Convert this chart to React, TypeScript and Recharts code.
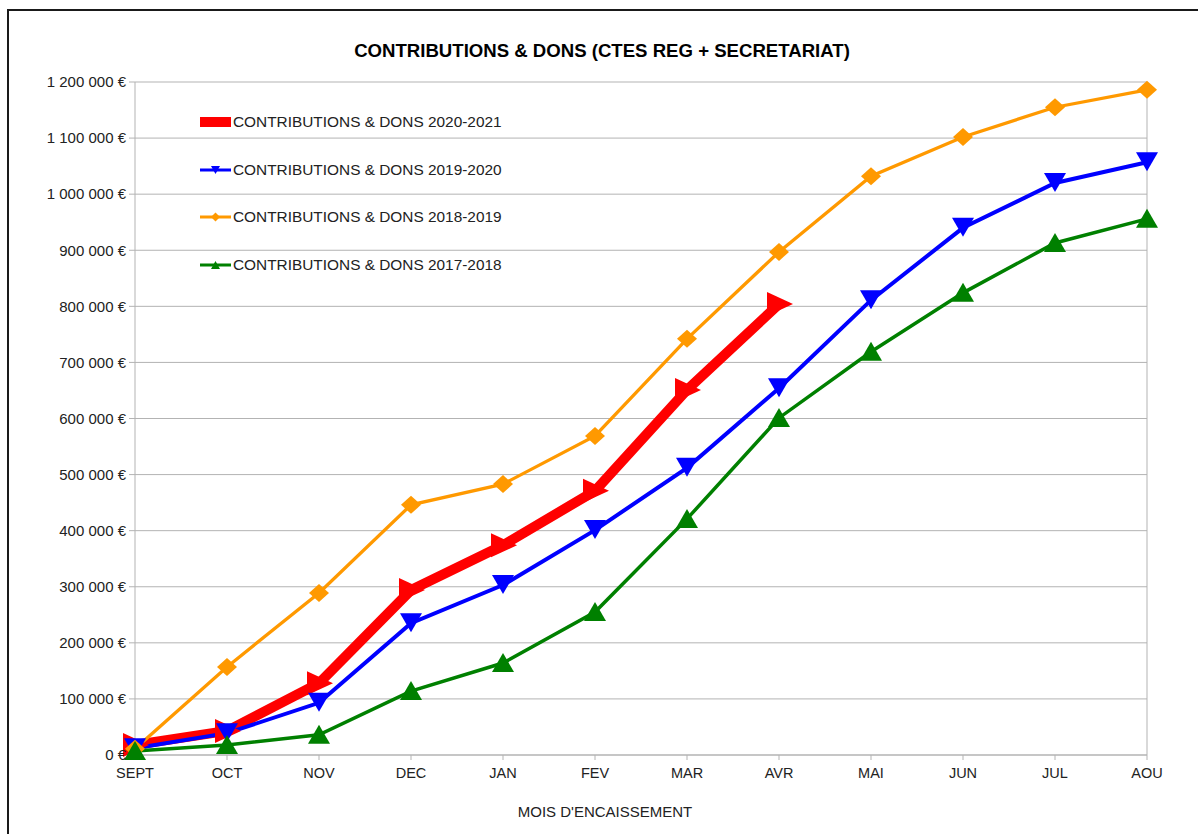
import React from "react";
import { LineChart, Line, XAxis, YAxis, CartesianGrid, ReferenceLine } from "recharts";

const MONTHS = ["SEPT", "OCT", "NOV", "DEC", "JAN", "FEV", "MAR", "AVR", "MAI", "JUN", "JUL", "AOU"];

const DONS_2020_2021 = [18000, 43000, 128000, 294000, 374000, 471000, 651000, 804000];
const DONS_2019_2020 = [12000, 39000, 93000, 235000, 303000, 401000, 512000, 654000, 811000, 940000, 1020000, 1057000];
const DONS_2018_2019 = [11000, 157000, 289000, 446000, 483000, 569000, 742000, 897000, 1032000, 1102000, 1155000, 1186000];
const DONS_2017_2018 = [7000, 18000, 36000, 114000, 164000, 255000, 421000, 601000, 719000, 824000, 913000, 956000];

const Y_TICKS = [0, 100000, 200000, 300000, 400000, 500000, 600000, 700000, 800000, 900000, 1000000, 1100000, 1200000];

const RED = "#ff0000";
const BLUE = "#0000ff";
const ORANGE = "#ff9900";
const GREEN = "#008000";
const GRID = "#b3b3b3";
const FONT = "'Liberation Sans', Arial, sans-serif";

const data = MONTHS.map((m, i) => ({
  month: m,
  d2021: DONS_2020_2021[i],
  d2020: DONS_2019_2020[i],
  d2019: DONS_2018_2019[i],
  d2018: DONS_2017_2018[i],
}));

const fmtEuro = (v: number) => String(v).replace(/\B(?=(\d{3})+(?!\d))/g, " ") + " €";

// marker shapes
const rightTri = (color: string) => (p: any) => {
  if (p.cx == null || p.cy == null) return <g key={p.key} />;
  const { cx, cy } = p;
  return <path key={p.key} d={`M${cx - 12},${cy - 12} L${cx + 14},${cy} L${cx - 12},${cy + 12} Z`} fill={color} />;
};
const downTri = (color: string) => (p: any) => {
  if (p.cx == null || p.cy == null) return <g key={p.key} />;
  const { cx, cy } = p;
  return <path key={p.key} d={`M${cx - 11},${cy - 10} L${cx + 11},${cy - 10} L${cx},${cy + 9} Z`} fill={color} />;
};
const upTri = (color: string) => (p: any) => {
  if (p.cx == null || p.cy == null) return <g key={p.key} />;
  const { cx, cy } = p;
  return <path key={p.key} d={`M${cx - 11},${cy + 9} L${cx + 11},${cy + 9} L${cx},${cy - 10} Z`} fill={color} />;
};
const diamond = (color: string) => (p: any) => {
  if (p.cx == null || p.cy == null) return <g key={p.key} />;
  const { cx, cy } = p;
  return <path key={p.key} d={`M${cx},${cy - 9} L${cx + 10},${cy} L${cx},${cy + 9} L${cx - 10},${cy} Z`} fill={color} />;
};

const LEGEND = [
  { label: "CONTRIBUTIONS & DONS 2020-2021", color: RED, kind: "bar" },
  { label: "CONTRIBUTIONS & DONS 2019-2020", color: BLUE, kind: "down" },
  { label: "CONTRIBUTIONS & DONS 2018-2019", color: ORANGE, kind: "diamond" },
  { label: "CONTRIBUTIONS & DONS 2017-2018", color: GREEN, kind: "up" },
];

function LegendSymbol({ color, kind }: { color: string; kind: string }) {
  return (
    <svg width={31} height={14} style={{ display: "block" }}>
      {kind === "bar" && <rect x={0} y={2} width={31} height={10} fill={color} />}
      {kind !== "bar" && <rect x={0} y={5.5} width={31} height={3} fill={color} />}
      {kind === "down" && <path d="M11,3 L20,3 L15.5,11 Z" fill={color} />}
      {kind === "up" && <path d="M11,11 L20,11 L15.5,3 Z" fill={color} />}
      {kind === "diamond" && <path d="M15.5,2.5 L20,7 L15.5,11.5 L11,7 Z" fill={color} />}
    </svg>
  );
}

function LegendBox() {
  return (
    <div style={{ position: "absolute", left: 200, top: 98, fontFamily: FONT, fontSize: 15.4, color: "#222" }}>
      {LEGEND.map((l) => (
        <div key={l.label} style={{ display: "flex", alignItems: "center", height: 47.7 }}>
          <LegendSymbol color={l.color} kind={l.kind} />
          <span style={{ marginLeft: 2, whiteSpace: "nowrap" }}>{l.label}</span>
        </div>
      ))}
    </div>
  );
}

export default function App() {
  return (
    <div style={{ position: "absolute", left: 0, top: 0, width: 1198, height: 834, overflow: "hidden", background: "#fff" }}>
      <div style={{ position: "absolute", left: 7, top: 9, width: 1300, height: 900, border: "2px solid #1a1a1a" }} />
      <div
        style={{
          position: "absolute", left: 0, width: 1204, top: 39, textAlign: "center",
          fontFamily: FONT, fontWeight: "bold", fontSize: 18.6, color: "#000", lineHeight: "24px",
        }}
      >
        CONTRIBUTIONS &amp; DONS (CTES REG + SECRETARIAT)
      </div>
      <div
        style={{
          position: "absolute", left: 0, width: 1210, top: 802, textAlign: "center",
          fontFamily: FONT, fontSize: 15, color: "#222", lineHeight: "20px",
        }}
      >
        MOIS D'ENCAISSEMENT
      </div>
      <div style={{ position: "absolute", left: 0, top: 0 }}>
        <LineChart width={1198} height={834} data={data} margin={{ top: 82, right: 51, bottom: 0, left: 0 }}>
          <CartesianGrid vertical={false} stroke={GRID} strokeWidth={1} />
          <XAxis
            dataKey="month"
            height={79}
            stroke={GRID}
            tickSize={5}
            tickMargin={8}
            tick={{ fill: "#222", fontSize: 14.5, fontFamily: FONT }}
            interval={0}
          />
          <YAxis
            width={135}
            domain={[0, 1200000]}
            ticks={Y_TICKS}
            tickFormatter={fmtEuro}
            stroke={GRID}
            tickSize={6}
            tickMargin={3}
            tick={{ fill: "#222", fontSize: 15, fontFamily: FONT }}
            interval={0}
          />
          <ReferenceLine x="AOU" stroke={GRID} strokeWidth={1} />
          <Line dataKey="d2021" stroke={RED} strokeWidth={10} strokeLinejoin="round" dot={rightTri(RED)} activeDot={false} isAnimationActive={false} />
          <Line dataKey="d2020" stroke={BLUE} strokeWidth={4} dot={downTri(BLUE)} activeDot={false} isAnimationActive={false} />
          <Line dataKey="d2019" stroke={ORANGE} strokeWidth={3.3} dot={diamond(ORANGE)} activeDot={false} isAnimationActive={false} />
          <Line dataKey="d2018" stroke={GREEN} strokeWidth={3.5} dot={upTri(GREEN)} activeDot={false} isAnimationActive={false} />
        </LineChart>
      </div>
      <LegendBox />
    </div>
  );
}
